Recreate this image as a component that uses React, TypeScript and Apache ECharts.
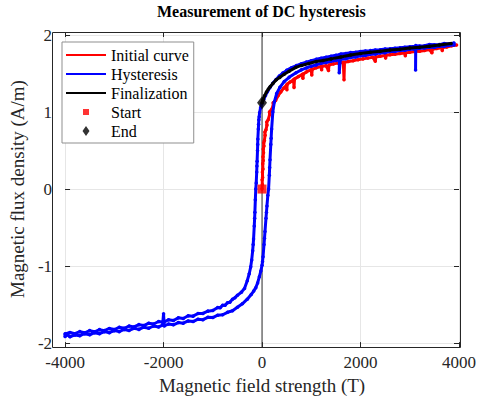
import React, { useEffect, useRef } from "react";
import * as echarts from "echarts";

const FONT = "'Liberation Serif', 'Times New Roman', Times, serif";

// Axis settings / tick values
const xTicks = { min: -4000, max: 4000, step: 2000 };
const yTicks = { min: -2, max: 2, step: 1 };

// Initial magnetisation curve (H, B)
const initialCurve: [number, number][] = [
  [0, 0], [6, 0.06], [3, 0.12], [12, 0.15], [8, 0.22], [18, 0.26], [14, 0.33], [24, 0.37],
  [20, 0.42], [30, 0.47], [26, 0.52], [38, 0.56], [34, 0.6], [48, 0.63], [62, 0.7], [58, 0.74],
  [80, 0.77], [100, 0.83], [96, 0.87], [125, 0.9], [155, 0.97], [150, 1.0], [190, 1.03],
  [230, 1.09], [226, 1.12], [275, 1.15], [325, 1.21], [380, 1.26], [440, 1.31], [500, 1.35],
  [505, 1.29], [510, 1.36], [570, 1.39], [640, 1.42], [650, 1.32], [660, 1.43], [740, 1.46],
  [820, 1.49], [830, 1.44], [840, 1.495], [900, 1.52], [1000, 1.55], [1010, 1.48],
  [1020, 1.555], [1100, 1.575], [1200, 1.59], [1210, 1.55], [1220, 1.595], [1300, 1.6],
  [1350, 1.54], [1360, 1.61], [1450, 1.625], [1550, 1.635], [1650, 1.645], [1665, 1.42],
  [1675, 1.645], [1750, 1.655], [1850, 1.665], [1950, 1.68], [2050, 1.69], [2150, 1.7],
  [2250, 1.71], [2300, 1.66], [2310, 1.715], [2400, 1.725], [2500, 1.735], [2510, 1.7],
  [2520, 1.738], [2600, 1.745], [2700, 1.75], [2800, 1.76], [2900, 1.765], [2910, 1.73],
  [2920, 1.768], [3000, 1.775], [3100, 1.785], [3200, 1.79], [3300, 1.8], [3400, 1.81],
  [3450, 1.77], [3460, 1.815], [3550, 1.825], [3650, 1.835], [3660, 1.8], [3670, 1.838],
  [3750, 1.845], [3850, 1.86], [3950, 1.87],
];

// Hysteresis loop, descending branch (H, B)
const hysteresisDown: [number, number][] = [
  [3900, 1.895], [3800, 1.882], [3700, 1.889], [3600, 1.875], [3500, 1.872], [3400, 1.878],
  [3300, 1.861], [3200, 1.858], [3120, 1.862], [3118, 1.545], [3122, 1.855], [3000, 1.847],
  [2900, 1.842], [2800, 1.834], [2700, 1.829], [2600, 1.822], [2500, 1.818], [2400, 1.809],
  [2300, 1.806], [2200, 1.797], [2100, 1.792], [2000, 1.786], [1900, 1.777], [1800, 1.771],
  [1700, 1.759], [1600, 1.752], [1568, 1.51], [1572, 1.745], [1500, 1.736], [1400, 1.724],
  [1300, 1.712], [1200, 1.698], [1100, 1.684], [1000, 1.667], [900, 1.648], [800, 1.628],
  [700, 1.603], [600, 1.576], [500, 1.541], [420, 1.505], [350, 1.466], [280, 1.42],
  [220, 1.373], [160, 1.318], [110, 1.265], [70, 1.214], [35, 1.165], [0, 1.115],
  [-30, 1.055], [-50, 0.99], [-58, 0.94], [-65, 0.9], [-70, 0.84], [-75, 0.78], [-85, 0.65],
  [-88, 0.58], [-92, 0.5], [-100, 0.36], [-104, 0.3], [-108, 0.22], [-118, 0.08], [-127, 0],
  [-136, -0.14], [-145, -0.3], [-150, -0.38], [-158, -0.48], [-172, -0.65], [-180, -0.72],
  [-190, -0.8], [-210, -0.92], [-230, -1.01], [-260, -1.1], [-300, -1.19], [-356, -1.29],
  [-420, -1.34], [-500, -1.38], [-550, -1.41], [-600, -1.432], [-650, -1.468], [-700, -1.475],
  [-750, -1.508], [-800, -1.51], [-850, -1.54], [-900, -1.537], [-1000, -1.578],
  [-1100, -1.585], [-1200, -1.615], [-1300, -1.615], [-1400, -1.65], [-1500, -1.645],
  [-1600, -1.68], [-1700, -1.672], [-1800, -1.706], [-1900, -1.697], [-2000, -1.73],
  [-2100, -1.72], [-2200, -1.752], [-2300, -1.741], [-2400, -1.772], [-2500, -1.76],
  [-2600, -1.79], [-2700, -1.778], [-2800, -1.808], [-2900, -1.795], [-3000, -1.824],
  [-3100, -1.81], [-3200, -1.838], [-3300, -1.825], [-3400, -1.853], [-3500, -1.838],
  [-3600, -1.866], [-3700, -1.851], [-3800, -1.878], [-3900, -1.862], [-4000, -1.88],
];

// Hysteresis loop, ascending branch (H, B)
const hysteresisUp: [number, number][] = [
  [-4000, -1.915], [-3950, -1.892], [-3900, -1.918], [-3800, -1.894], [-3700, -1.904],
  [-3600, -1.878], [-3500, -1.892], [-3400, -1.865], [-3300, -1.878], [-3200, -1.851],
  [-3100, -1.865], [-3000, -1.838], [-2900, -1.851], [-2800, -1.823], [-2700, -1.836],
  [-2600, -1.808], [-2500, -1.822], [-2400, -1.793], [-2300, -1.806], [-2200, -1.778],
  [-2100, -1.79], [-2020, -1.766], [-2000, -1.62], [-1985, -1.778], [-1900, -1.752],
  [-1800, -1.762], [-1700, -1.733], [-1600, -1.742], [-1500, -1.712], [-1400, -1.72],
  [-1300, -1.69], [-1200, -1.696], [-1100, -1.665], [-1000, -1.668], [-900, -1.638],
  [-800, -1.632], [-700, -1.6], [-600, -1.58], [-500, -1.535], [-400, -1.49], [-300, -1.43],
  [-220, -1.37], [-170, -1.325], [-127, -1.28], [-90, -1.22], [-55, -1.14], [-25, -1.065],
  [0, -0.99], [10, -0.94], [20, -0.88], [40, -0.72], [50, -0.64], [60, -0.55], [80, -0.38],
  [90, -0.3], [100, -0.22], [118, -0.08], [133, 0], [148, 0.18], [155, 0.28], [162, 0.38],
  [178, 0.58], [185, 0.66], [195, 0.78], [219, 1.0], [250, 1.13], [297, 1.24], [362, 1.32],
  [450, 1.395], [550, 1.45], [690, 1.51], [800, 1.548], [900, 1.572], [1000, 1.595],
  [1100, 1.612], [1200, 1.632], [1300, 1.642], [1400, 1.66], [1500, 1.668], [1600, 1.685],
  [1700, 1.692], [1800, 1.708], [1900, 1.714], [2000, 1.73], [2100, 1.735], [2200, 1.75],
  [2300, 1.754], [2400, 1.768], [2500, 1.771], [2600, 1.785], [2700, 1.787], [2800, 1.8],
  [2900, 1.802], [3000, 1.815], [3100, 1.816], [3200, 1.829], [3300, 1.83], [3400, 1.842],
  [3500, 1.842], [3600, 1.855], [3700, 1.855], [3800, 1.866], [3900, 1.87],
];

// Finalization curve (H, B)
const finalization: [number, number][] = [
  [0, 1.12], [20, 1.16], [50, 1.21], [90, 1.26], [130, 1.3], [166, 1.33], [220, 1.37],
  [290, 1.42], [362, 1.45], [450, 1.49], [550, 1.53], [688, 1.58], [800, 1.605], [950, 1.63],
  [1100, 1.655], [1240, 1.67], [1400, 1.69], [1600, 1.715], [1800, 1.74], [2000, 1.76],
  [2200, 1.775], [2400, 1.79], [2600, 1.805], [2800, 1.815], [3000, 1.83], [3200, 1.84],
  [3400, 1.855], [3600, 1.87], [3840, 1.89],
];

const startPoint: [number, number][] = [[0, 0]];
const endPoint: [number, number][] = [[0, 1.12]];
const zeroLine: [number, number][] = [[0, -2.06], [0, 2.04]];

const legendNames = ["Initial curve", "Hysteresis", "Finalization", "Start", "End"];

const LINE_ICON =
  "path://M0,0L0.01,0L0.01,0.01ZM0,6L40,6L40,8L0,8ZM40,14L39.99,14L39.99,13.99Z";
const SQUARE_ICON =
  "path://M0,0L0.01,0L0.01,0.01ZM17,4L23,4L23,10L17,10ZM40,14L39.99,14L39.99,13.99Z";
const DIAMOND_ICON =
  "path://M0,0L0.01,0L0.01,0.01ZM20,2L23.5,7L20,12L16.5,7ZM40,14L39.99,14L39.99,13.99Z";

export default function App() {
  const ref = useRef<HTMLDivElement>(null);

  useEffect(() => {
    document.body.style.margin = "0";
    if (!ref.current) return;
    const chart = echarts.init(ref.current, undefined, { renderer: "svg" });
    const axisColor = "#262626";
    const gridColor = "#e6e6e6";
    const tickLabel = {
      fontSize: 17,
      color: axisColor,
      fontFamily: FONT,
      formatter: (v: number) => String(v),
    };
    const noBorder = { borderWidth: 0 };

    const option: any = {
      animation: false,
      backgroundColor: "#ffffff",
      title: {
        text: "Measurement of DC hysteresis",
        left: 157,
        top: 3,
        padding: 0,
        textStyle: { fontFamily: FONT, fontSize: 16, fontWeight: "bold", color: "#000" },
      },
      grid: { left: 52, right: 18, top: 35, bottom: 56, containLabel: false },
      xAxis: [
        {
          type: "value",
          min: xTicks.min,
          max: xTicks.max,
          interval: xTicks.step,
          position: "bottom",
          offset: 4,
          axisLine: { show: false, onZero: false },
          axisTick: { show: true, inside: true, length: 5, lineStyle: { color: axisColor } },
          axisLabel: { ...tickLabel, margin: 7 },
          splitLine: { show: true, lineStyle: { color: gridColor, width: 1 } },
          name: "Magnetic field strength (T)",
          nameLocation: "middle",
          nameGap: 26,
          nameTextStyle: { fontSize: 19, color: axisColor, fontFamily: FONT },
        },
        {
          type: "value",
          min: xTicks.min,
          max: xTicks.max,
          interval: xTicks.step,
          position: "top",
          offset: 3,
          axisLine: { show: false, onZero: false },
          axisTick: { show: true, inside: true, length: 5, lineStyle: { color: axisColor } },
          axisLabel: { show: false },
          splitLine: { show: false },
        },
      ],
      yAxis: [
        {
          type: "value",
          min: yTicks.min,
          max: yTicks.max,
          interval: yTicks.step,
          position: "left",
          axisLine: { show: false, onZero: false },
          axisTick: { show: true, inside: true, length: 5, lineStyle: { color: axisColor } },
          axisLabel: { ...tickLabel, margin: 13 },
          splitLine: { show: true, lineStyle: { color: gridColor, width: 1 } },
          name: "Magnetic flux density (A/m)",
          nameLocation: "middle",
          nameGap: 25,
          nameTextStyle: { fontSize: 19, color: axisColor, fontFamily: FONT },
        },
        {
          type: "value",
          min: yTicks.min,
          max: yTicks.max,
          interval: yTicks.step,
          position: "right",
          axisLine: { show: false, onZero: false },
          axisTick: { show: true, inside: true, length: 5, lineStyle: { color: axisColor } },
          axisLabel: { show: false },
          splitLine: { show: false },
        },
      ],
      legend: {
        left: 62,
        top: 42,
        orient: "vertical",
        itemWidth: 40,
        itemHeight: 14,
        itemGap: 3,
        itemTextGap: 0,
        padding: [5, 5, 4, 4],
        backgroundColor: "#ffffff",
        borderColor: "#8f8f8f",
        borderWidth: 1,
        selectedMode: false,
        textStyle: { fontSize: 16, fontFamily: FONT, color: "#000" },
        data: [
          { name: legendNames[0], icon: LINE_ICON, itemStyle: noBorder },
          { name: legendNames[1], icon: LINE_ICON, itemStyle: noBorder },
          { name: legendNames[2], icon: LINE_ICON, itemStyle: noBorder },
          { name: legendNames[3], icon: SQUARE_ICON, itemStyle: noBorder },
          { name: legendNames[4], icon: DIAMOND_ICON, itemStyle: noBorder },
        ],
      },
      graphic: [
        {
          type: "rect",
          shape: { x: 52.5, y: 32.5, width: 408, height: 315 },
          style: { fill: "none", stroke: axisColor, lineWidth: 1 },
          silent: true,
          z: 100,
        },
      ],
      series: [
        {
          name: "zero",
          type: "line",
          data: zeroLine,
          clip: false,
          symbol: "none",
          silent: true,
          lineStyle: { color: "#333", width: 1 },
          z: 1,
        },
        {
          name: legendNames[0],
          type: "line",
          data: initialCurve,
          symbol: "circle",
          symbolSize: 3.5,
          showSymbol: true,
          lineStyle: { color: "#ff0000", width: 3 },
          itemStyle: { color: "#ff0000" },
          z: 2,
        },
        {
          name: legendNames[1],
          type: "line",
          data: [...hysteresisDown, ...hysteresisUp],
          symbol: "circle",
          symbolSize: 3.5,
          showSymbol: true,
          lineStyle: { color: "#0000ff", width: 3 },
          itemStyle: { color: "#0000ff" },
          z: 3,
        },
        {
          name: legendNames[2],
          type: "line",
          data: finalization,
          symbol: "circle",
          symbolSize: 3.5,
          showSymbol: true,
          lineStyle: { color: "#000000", width: 3 },
          itemStyle: { color: "#000000" },
          z: 4,
        },
        {
          name: legendNames[3],
          type: "scatter",
          data: startPoint,
          symbol: "rect",
          symbolSize: 9,
          itemStyle: { color: "#ff0000" },
          z: 5,
        },
        {
          name: legendNames[4],
          type: "scatter",
          data: endPoint,
          symbol: "diamond",
          symbolSize: [10, 13],
          itemStyle: { color: "#000000" },
          z: 6,
        },
      ],
    };
    chart.setOption(option);
    return () => chart.dispose();
  }, []);

  return <div ref={ref} style={{ width: 479, height: 400 }} />;
}
